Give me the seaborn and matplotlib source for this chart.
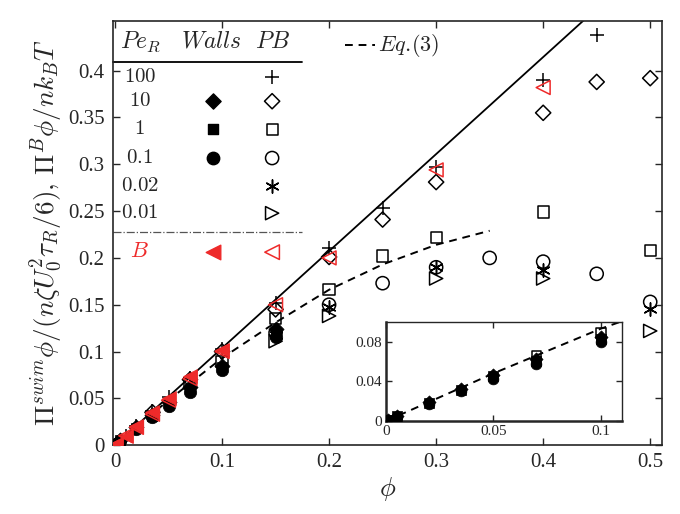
import numpy as np
import matplotlib
matplotlib.use("Agg")
import matplotlib.pyplot as plt
import seaborn as sns

# ---- data ----
# PB (open markers)
pb100_phi = [0.001, 0.01, 0.02, 0.035, 0.05, 0.07, 0.1, 0.15, 0.2, 0.25, 0.3, 0.4, 0.45]
pb100_val = [0.001, 0.010, 0.020, 0.036, 0.051, 0.072, 0.103, 0.152, 0.211, 0.253, 0.297, 0.390, 0.438]
pb10_phi = [0.035, 0.07, 0.1, 0.15, 0.2, 0.25, 0.3, 0.4, 0.45, 0.5]
pb10_val = [0.035, 0.070, 0.100, 0.145, 0.201, 0.241, 0.281, 0.355, 0.388, 0.392]
pb1_phi = [0.07, 0.1, 0.15, 0.2, 0.25, 0.3, 0.4, 0.5]
pb1_val = [0.066, 0.089, 0.135, 0.166, 0.202, 0.222, 0.249, 0.208]
pb01_phi = [0.15, 0.2, 0.25, 0.3, 0.35, 0.4, 0.45, 0.5]
pb01_val = [0.120, 0.150, 0.173, 0.190, 0.200, 0.196, 0.183, 0.153]
pb002_phi = [0.15, 0.2, 0.3, 0.4, 0.5]
pb002_val = [0.118, 0.148, 0.190, 0.187, 0.145]
pb001_phi = [0.15, 0.2, 0.3, 0.4, 0.5]
pb001_val = [0.111, 0.138, 0.178, 0.178, 0.122]

# Walls (filled markers)
walls_phi = [0.001, 0.005, 0.02, 0.035, 0.05, 0.07, 0.1, 0.15]
walls10_val = [0.001, 0.005, 0.019, 0.032, 0.046, 0.062, 0.085, 0.124]
walls1_val = [0.001, 0.005, 0.018, 0.031, 0.045, 0.060, 0.083, 0.120]
walls01_val = [0.001, 0.004, 0.017, 0.030, 0.042, 0.057, 0.080, 0.116]

# Brownian (red)
bw_phi = [0.001, 0.01, 0.02, 0.035, 0.05, 0.07, 0.1]
bw_val = [0.001, 0.010, 0.020, 0.035, 0.050, 0.074, 0.102]
bpb_phi = [0.001, 0.01, 0.02, 0.035, 0.05, 0.07, 0.1, 0.15, 0.2, 0.3, 0.4]
bpb_val = [0.000, 0.010, 0.019, 0.033, 0.048, 0.071, 0.100, 0.150, 0.200, 0.294, 0.382]

# ideal line and Eq.(3) curve
ideal_phi = [0.0, 0.44]
ideal_val = [0.0, 0.456]
eq3_phi = [0.0, 0.05, 0.1, 0.15, 0.2, 0.25, 0.3, 0.35]
eq3_val = [0.0, 0.048, 0.093, 0.131, 0.166, 0.193, 0.214, 0.229]

pe_labels = ["100", "10", "1", "0.1", "0.02", "0.01"]

red = "#ee2a2a"
asterisk = (6, 2, 0)

sns.set_style("ticks")
plt.rcParams["font.family"] = ["Liberation Serif", "DejaVu Serif"]
plt.rcParams["mathtext.fontset"] = "cm"
plt.rcParams["xtick.direction"] = "in"
plt.rcParams["ytick.direction"] = "in"
plt.rcParams["xtick.top"] = True
plt.rcParams["ytick.right"] = True

fig = plt.figure(figsize=(6.8, 5.14), dpi=100)
ax = fig.add_axes([0.166, 0.134, 0.8075, 0.825])


def pts(a, x, y, m, s, face, edge, lw=1.0, z=3):
    sns.scatterplot(x=x, y=y, marker=m, s=s, color=edge, facecolor=face,
                    edgecolor=edge, linewidth=lw, ax=a, zorder=z, legend=False)


def draw_data(a, inset=False):
    k = 0.75 if inset else 1.0
    if not inset:
        sns.lineplot(x=ideal_phi, y=ideal_val, color="k", lw=1.3, ax=a)
    sns.lineplot(x=eq3_phi, y=eq3_val, color="k", lw=1.4, ls=(0, (4, 3)), ax=a)
    if not inset:
        pts(a, pb100_phi, pb100_val, "+", 110, "k", "k", 1.1)
        pts(a, pb10_phi, pb10_val, "D", 60, "none", "k", 1.1)
        pts(a, pb01_phi, pb01_val, "o", 90, "none", "k", 1.1)
        pts(a, pb002_phi, pb002_val, asterisk, 90, "k", "k", 1.1)
        pts(a, pb001_phi, pb001_val, ">", 90, "none", "k", 1.1)
    pts(a, pb1_phi, pb1_val, "s", 65 * k, "none", "k", 1.1)
    pts(a, walls_phi, walls10_val, "D", 60 * k, "k", "k", 0.5, 4)
    pts(a, walls_phi, walls1_val, "s", 60 * k, "k", "k", 0.5, 4)
    pts(a, walls_phi, walls01_val, "o", 80 * k, "k", "k", 0.5, 4)
    if not inset:
        pts(a, bw_phi, bw_val, "<", 100, red, red, 0.5, 5)
        pts(a, bpb_phi, bpb_val, "<", 100, "none", red, 1.1, 5)


draw_data(ax)
ax.set_xlim(-0.002, 0.511)
ax.set_ylim(0, 0.453)
ax.set_xticks([0, 0.1, 0.2, 0.3, 0.4, 0.5])
ax.set_xticklabels(["0", "0.1", "0.2", "0.3", "0.4", "0.5"])
ax.set_yticks([0, 0.05, 0.1, 0.15, 0.2, 0.25, 0.3, 0.35, 0.4])
ax.set_yticklabels(["0", "0.05", "0.1", "0.15", "0.2", "0.25", "0.3", "0.35", "0.4"])
ax.tick_params(labelsize=15, length=5, width=1, pad=6)
for sp in ax.spines.values():
    sp.set_linewidth(1.2)
ax.set_xlabel(r"$\phi$", fontsize=19, labelpad=2)
ax.set_ylabel(r"$\Pi^{swim}\phi/(n\zeta U_0^2\tau_R/6),\, \Pi^B\phi/nk_BT$",
              fontsize=19.5, labelpad=3)

# ---- table-style legend ----
tr = ax.transAxes
ax.text(0.05, 0.95, r"$Pe_R$", transform=tr, fontsize=17, ha="center", va="center")
ax.text(0.18, 0.95, r"$Walls$", transform=tr, fontsize=17, ha="center", va="center")
ax.text(0.29, 0.95, r"$PB$", transform=tr, fontsize=17, ha="center", va="center")
ax.plot([0, 0.344], [0.903, 0.903], transform=tr, color="k", lw=1.3, clip_on=False)
rows_y = [0.868, 0.811, 0.745, 0.677, 0.611, 0.547]
for lab, yy in zip(pe_labels, rows_y):
    ax.text(0.049, yy, "$" + lab + "$", transform=tr, fontsize=15, ha="center", va="center")
pb_marks = [("+", "k", 110), ("D", "none", 60), ("s", "none", 65),
            ("o", "none", 90), (asterisk, "k", 90), (">", "none", 90)]
for (m, fc, s), yy in zip(pb_marks, rows_y):
    ax.scatter([0.29], [yy], transform=tr, marker=m, s=s, facecolor=fc,
               edgecolor="k", linewidth=1.1, clip_on=False)
walls_marks = [("D", 60), ("s", 60), ("o", 80)]
for (m, s), yy in zip(walls_marks, rows_y[1:4]):
    ax.scatter([0.182], [yy], transform=tr, marker=m, s=s, color="k", clip_on=False)
ax.plot([0, 0.344], [0.502, 0.502], transform=tr, color="#555555", lw=0.9, ls="-.")
ax.text(0.049, 0.455, r"$B$", transform=tr, fontsize=16, color=red, ha="center", va="center")
ax.scatter([0.182], [0.455], transform=tr, marker="<", s=110, color=red)
ax.scatter([0.29], [0.455], transform=tr, marker="<", s=110, facecolor="none",
           edgecolor=red, linewidth=1.1)
ax.plot([0.423, 0.477], [0.943, 0.943], transform=tr, color="k", lw=1.4, ls=(0, (4, 3)))
ax.text(0.482, 0.943, r"$Eq.\!(3)$", transform=tr, fontsize=16, ha="left", va="center")

# ---- inset ----
ax2 = fig.add_axes([0.568, 0.181, 0.347, 0.193])
draw_data(ax2, inset=True)
ax2.set_xlim(0, 0.11)
ax2.set_ylim(0, 0.1)
ax2.set_xticks([0, 0.05, 0.1])
ax2.set_xticklabels(["0", "0.05", "0.1"])
ax2.set_yticks([0, 0.04, 0.08])
ax2.set_yticklabels(["0", "0.04", "0.08"])
ax2.tick_params(labelsize=11, length=4, width=1, pad=3)
for sp in ax2.spines.values():
    sp.set_linewidth(1.0)
ax2.spines["left"].set_linewidth(1.8)
ax2.spines["bottom"].set_linewidth(1.8)

fig.savefig("out.png", dpi=100)
